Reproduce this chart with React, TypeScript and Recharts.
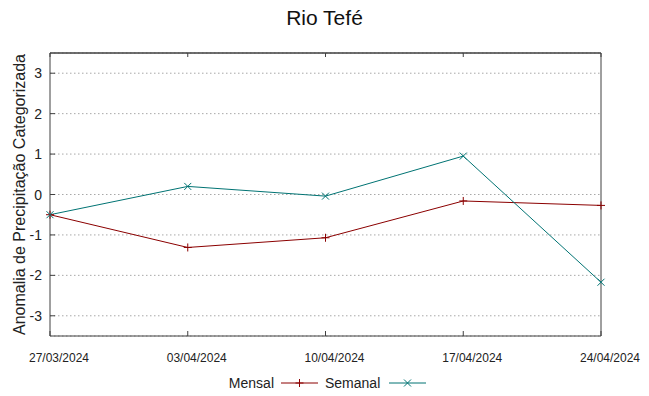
import React from 'react';
import { LineChart, Line, XAxis, YAxis, CartesianGrid, ReferenceLine } from 'recharts';

const dates = ['27/03/2024', '03/04/2024', '10/04/2024', '17/04/2024', '24/04/2024'];
const mensal = [-0.5, -1.31, -1.07, -0.16, -0.27];
const semanal = [-0.5, 0.2, -0.04, 0.95, -2.17];
const yTicks = [-3, -2, -1, 0, 1, 2, 3];
const yDomain = [-3.5, 3.5];

const FONT = '"Liberation Sans", Arial, sans-serif';
const RED = '#8b0000';
const TEAL = '#007373';
const BORDER = '#404040';

const data = dates.map((d, i) => ({ date: d, mensal: mensal[i], semanal: semanal[i] }));

const PlusDot = ({ cx, cy }: any) => (
  <g stroke={RED} strokeWidth={1}>
    <line x1={cx - 4} x2={cx + 4} y1={cy} y2={cy} />
    <line x1={cx} x2={cx} y1={cy - 4} y2={cy + 4} />
  </g>
);

const CrossDot = ({ cx, cy }: any) => (
  <g stroke={TEAL} strokeWidth={1}>
    <line x1={cx - 3.5} x2={cx + 3.5} y1={cy - 3.5} y2={cy + 3.5} />
    <line x1={cx - 3.5} x2={cx + 3.5} y1={cy + 3.5} y2={cy - 3.5} />
  </g>
);

const LeftTick = ({ x, y, payload }: any) => (
  <g>
    <line x1={x + 8} x2={x + 13} y1={y} y2={y} stroke={BORDER} />
    <text x={x} y={y} dy="0.36em" textAnchor="end" fontSize={14} fill="#222" fontFamily={FONT}>
      {payload.value}
    </text>
  </g>
);

const RightTick = ({ x, y }: any) => <line x1={x} x2={x - 5} y1={y} y2={y} stroke={BORDER} />;

// gnuplot-style condensed date labels, sitting a bit right of their tick
const BottomTick = ({ x, y, payload }: any) => (
  <g>
    <line x1={x} x2={x} y1={y - 16} y2={y - 21} stroke={BORDER} />
    <text
      x={x + 9}
      y={y}
      dy="0.72em"
      textAnchor="middle"
      fontSize={13.5}
      fill="#222"
      fontFamily={FONT}
      textLength={60}
      lengthAdjust="spacingAndGlyphs"
    >
      {payload.value}
    </text>
  </g>
);

const TopTick = ({ x, y }: any) => <line x1={x} x2={x} y1={y} y2={y + 4} stroke={BORDER} />;

const App = () => {
  return (
    <div style={{ position: 'absolute', left: 0, top: 0, width: 649, height: 396, background: '#fff', fontFamily: FONT }}>
      <div style={{ position: 'absolute', top: 6, left: 0, width: 649, textAlign: 'center', fontSize: 21, color: '#111' }}>
        Rio Tefé
      </div>
      <LineChart width={649} height={396} data={data} margin={{ top: 52, right: 47, bottom: 30, left: 0 }}>
        <CartesianGrid
          xAxisId="b"
          yAxisId="l"
          vertical={false}
          stroke="#a8a8a8"
          strokeDasharray="1.5 2.5"
        />
        <XAxis
          xAxisId="b"
          dataKey="date"
          height={30}
          interval={0}
          tickSize={0}
          tickMargin={16}
          tickLine={false}
          axisLine={{ stroke: BORDER }}
          tick={<BottomTick />}
        />
        <XAxis
          xAxisId="t"
          dataKey="date"
          orientation="top"
          height={1}
          interval={0}
          tickSize={0}
          tickMargin={0}
          tickLine={false}
          axisLine={{ stroke: BORDER }}
          tick={<TopTick />}
        />
        <YAxis
          yAxisId="l"
          width={50}
          domain={yDomain}
          ticks={yTicks}
          interval={0}
          tickSize={0}
          tickMargin={8}
          tickLine={false}
          axisLine={{ stroke: BORDER }}
          tick={<LeftTick />}
          label={{
            value: 'Anomalia de Precipitação Categorizada',
            angle: -90,
            position: 'insideLeft',
            dx: 14,
            dy: 0,
            style: { textAnchor: 'middle', fontSize: 16, fill: '#222', fontFamily: FONT },
          }}
        />
        <YAxis
          yAxisId="r"
          orientation="right"
          width={1}
          domain={yDomain}
          ticks={yTicks}
          interval={0}
          tickSize={0}
          tickMargin={0}
          tickLine={false}
          axisLine={{ stroke: BORDER }}
          tick={<RightTick />}
        />
        <ReferenceLine xAxisId="b" yAxisId="l" y={yDomain[1]} stroke={BORDER} />
        <Line
          xAxisId="b"
          yAxisId="l"
          dataKey="mensal"
          name="Mensal"
          stroke={RED}
          strokeWidth={1}
          dot={<PlusDot />}
          activeDot={false}
          isAnimationActive={false}
        />
        <Line
          xAxisId="b"
          yAxisId="l"
          dataKey="semanal"
          name="Semanal"
          stroke={TEAL}
          strokeWidth={1}
          dot={<CrossDot />}
          activeDot={false}
          isAnimationActive={false}
        />
      </LineChart>
      <svg style={{ position: 'absolute', left: 0, top: 370 }} width={649} height={26}>
        <text x={274} y={13} dy="0.36em" textAnchor="end" fontSize={14} fill="#222" fontFamily={FONT}>
          Mensal
        </text>
        <line x1={281} x2={318} y1={13} y2={13} stroke={RED} />
        <PlusDot cx={299.5} cy={13} />
        <text x={325} y={13} dy="0.36em" textAnchor="start" fontSize={14} fill="#222" fontFamily={FONT}>
          Semanal
        </text>
        <line x1={389} x2={426} y1={13} y2={13} stroke={TEAL} />
        <CrossDot cx={407.5} cy={13} />
      </svg>
    </div>
  );
};

export default App;
